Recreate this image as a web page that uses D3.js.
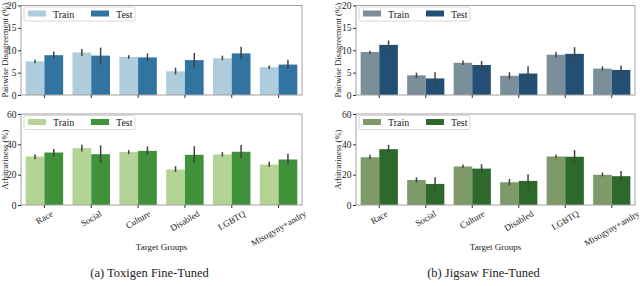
<!DOCTYPE html>
<html>
<head>
<meta charset="utf-8">
<script src="https://cdn.jsdelivr.net/npm/d3@7"></script>
<style>
  body { margin: 0; background: #fff; }
  svg text { font-family: "Liberation Serif", "Times New Roman", serif; fill: #222; }
</style>
</head>
<body>
<div id="canvas"></div>
<script>
"use strict";

// Canvas
let svgWidth = 640;
let svgHeight = 286;

// Data
let groups = ["Race", "Social", "Culture", "Disabled", "LGBTQ", "Misogyny+andry"];
let seriesNames = ["Train", "Test"];

// (a) Toxigen fine-tuned
let toxDisTrain = [7.5, 9.5, 8.5, 5.3, 8.2, 6.2];
let toxDisTrainErr = [[7.1, 7.9], [8.7, 10.3], [8.1, 8.9], [4.6, 6.1], [7.8, 8.8], [5.8, 6.6]];
let toxDisTest = [8.9, 8.8, 8.4, 7.8, 9.3, 6.8];
let toxDisTestErr = [[8.1, 9.7], [6.8, 10.6], [7.5, 9.3], [6.0, 9.4], [8.0, 10.8], [5.8, 7.9]];
let toxArbTrain = [32.0, 37.5, 34.9, 23.4, 33.3, 26.7];
let toxArbTrainErr = [[30.2, 33.5], [35.3, 39.7], [33.5, 36.2], [21.8, 25.6], [32.0, 34.9], [25.1, 28.5]];
let toxArbTest = [34.6, 33.5, 35.7, 33.1, 35.1, 30.0];
let toxArbTestErr = [[32.0, 37.0], [27.6, 39.3], [33.1, 38.6], [27.6, 38.8], [30.9, 39.5], [26.5, 33.8]];

// (b) Jigsaw fine-tuned
let jigDisTrain = [9.6, 4.4, 7.2, 4.3, 9.0, 5.9];
let jigDisTrainErr = [[9.2, 9.9], [3.8, 5.0], [6.7, 7.7], [3.5, 5.1], [8.4, 9.6], [5.5, 6.4]];
let jigDisTest = [11.2, 3.7, 6.7, 4.8, 9.2, 5.6];
let jigDisTestErr = [[10.3, 12.2], [1.9, 5.1], [5.7, 7.6], [2.4, 6.4], [7.7, 10.7], [4.4, 6.6]];
let jigArbTrain = [31.5, 16.5, 25.4, 15.0, 32.0, 19.9];
let jigArbTrainErr = [[30.2, 33.1], [14.8, 18.3], [24.3, 26.7], [13.0, 17.2], [30.9, 33.3], [18.8, 21.4]];
let jigArbTest = [36.8, 13.9, 24.0, 15.9, 31.8, 19.0];
let jigArbTestErr = [[34.2, 39.7], [9.9, 18.3], [21.2, 26.9], [11.7, 20.3], [27.6, 36.2], [15.4, 22.5]];

let disTicks = [0, 5, 10, 15, 20];
let arbTicks = [0, 20, 40, 60];

let svg = d3.select("#canvas")
    .append("svg")
    .attr("width", svgWidth)
    .attr("height", svgHeight);

// Layout of the four plots
let columns = [
    { left: 21, right: 302, caption: "(a) Toxigen Fine-Tuned", yLabelX: 5 },
    { left: 356, right: 635, caption: "(b) Jigsaw Fine-Tuned", yLabelX: 338 }
];
let rows = [
    { top: 5.5, bottom: 95, label: "Pairwise Disagreement (%)", max: 20, ticks: disTicks },
    { top: 114, bottom: 205, label: "Arbitrariness (%)", max: 60, ticks: arbTicks }
];

let plots = [
    { col: 0, row: 0, train: toxDisTrain, trainErr: toxDisTrainErr, test: toxDisTest, testErr: toxDisTestErr, colors: ["#aeccdb", "#3274a1"] },
    { col: 0, row: 1, train: toxArbTrain, trainErr: toxArbTrainErr, test: toxArbTest, testErr: toxArbTestErr, colors: ["#b3d495", "#3f923a"] },
    { col: 1, row: 0, train: jigDisTrain, trainErr: jigDisTrainErr, test: jigDisTest, testErr: jigDisTestErr, colors: ["#7b8f9b", "#234f74"] },
    { col: 1, row: 1, train: jigArbTrain, trainErr: jigArbTrainErr, test: jigArbTest, testErr: jigArbTestErr, colors: ["#7d9a68", "#2c692b"] }
];

plots.forEach(p => {
    let c = columns[p.col];
    let r = rows[p.row];

    let x0 = d3.scaleBand().domain(groups).range([c.left, c.right]).paddingInner(0.2).paddingOuter(0.1);
    let x1 = d3.scaleBand().domain(seriesNames).range([0, x0.bandwidth()]);
    let y = d3.scaleLinear().domain([0, r.max]).range([r.bottom, r.top]);

    let g = svg.append("g");

    let series = [
        { name: "Train", values: p.train, err: p.trainErr, color: p.colors[0] },
        { name: "Test", values: p.test, err: p.testErr, color: p.colors[1] }
    ];

    series.forEach(s => {
        g.selectAll(null)
            .data(groups)
            .join("rect")
            .attr("x", d => x0(d) + x1(s.name))
            .attr("y", (d, i) => y(s.values[i]))
            .attr("width", x1.bandwidth())
            .attr("height", (d, i) => y(0) - y(s.values[i]))
            .attr("fill", s.color);

        g.selectAll(null)
            .data(groups)
            .join("line")
            .attr("x1", d => x0(d) + x1(s.name) + x1.bandwidth() / 2)
            .attr("x2", d => x0(d) + x1(s.name) + x1.bandwidth() / 2)
            .attr("y1", (d, i) => y(s.err[i][0]))
            .attr("y2", (d, i) => y(s.err[i][1]))
            .attr("stroke", "#424242")
            .attr("stroke-width", 1.5);
    });

    // Frame
    g.append("rect")
        .attr("x", c.left)
        .attr("y", r.top)
        .attr("width", c.right - c.left)
        .attr("height", r.bottom - r.top)
        .attr("fill", "none")
        .attr("stroke", "#a0a0a0")
        .attr("stroke-width", 1);

    // Y axis
    let yAxis = g.append("g")
        .attr("transform", `translate(${c.left},0)`)
        .call(d3.axisLeft(y).tickValues(r.ticks).tickSize(3).tickPadding(1.5));
    yAxis.select(".domain").remove();
    yAxis.selectAll("line").attr("stroke", "#333");
    yAxis.selectAll("text")
        .style("font-size", "9.5px")
        .style("font-family", "Liberation Serif")
        .attr("fill", "#222");

    // X ticks
    let xAxis = g.append("g")
        .attr("transform", `translate(0,${r.bottom})`)
        .call(d3.axisBottom(x0).tickSize(3).tickFormat(""));
    xAxis.select(".domain").remove();
    xAxis.selectAll("line").attr("stroke", "#333");

    // Rotated category labels on the lower row only
    if (p.row === 1) {
        groups.forEach(d => {
            let t = g.append("text")
                .attr("text-anchor", "middle")
                .attr("dominant-baseline", "central")
                .style("font-size", "9px")
                .text(d);
            let w = t.node().getComputedTextLength();
            let half = (w * 0.5 + 9 * 0.866) / 2;
            t.attr("transform", `translate(${x0(d) + x0.bandwidth() / 2},${r.bottom + 4 + half}) rotate(-30)`);
        });
    }

    // Y label
    g.append("text")
        .attr("transform", `translate(${c.yLabelX},${(r.top + r.bottom) / 2}) rotate(-90)`)
        .attr("text-anchor", "middle")
        .attr("dominant-baseline", "central")
        .style("font-size", "8.6px")
        .text(r.label);

    // Legend
    let lg = g.append("g").attr("transform", `translate(${c.left + 3},${r.top + 1.5})`);
    lg.append("rect")
        .attr("width", 111)
        .attr("height", 14)
        .attr("rx", 1.5)
        .attr("fill", "#fff")
        .attr("fill-opacity", 0.8)
        .attr("stroke", "#d8d8d8");
    series.forEach((s, i) => {
        lg.append("rect")
            .attr("x", 4 + i * 63)
            .attr("y", 3.5)
            .attr("width", 18)
            .attr("height", 6)
            .attr("fill", s.color);
        lg.append("text")
            .attr("x", 29 + i * 63)
            .attr("y", 7)
            .attr("dominant-baseline", "central")
            .style("font-size", "10px")
            .text(s.name);
    });
});

// Shared x labels and captions
columns.forEach(c => {
    svg.append("text")
        .attr("x", (c.left + c.right) / 2)
        .attr("y", 247)
        .attr("text-anchor", "middle")
        .attr("dominant-baseline", "central")
        .style("font-size", "9px")
        .text("Target Groups");

    svg.append("text")
        .attr("x", (c.left + c.right) / 2 - 12)
        .attr("y", 273)
        .attr("text-anchor", "middle")
        .attr("dominant-baseline", "central")
        .style("font-size", "12.5px")
        .text(c.caption);
});
</script>
</body>
</html>
